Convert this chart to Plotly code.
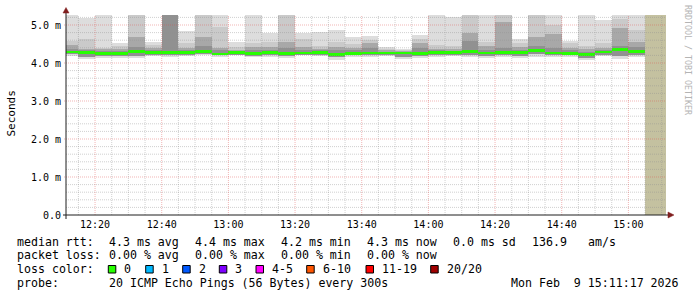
import plotly.graph_objects as go

# ---------------- data ----------------
DAY = "2026-02-09 "
bar_times = ["12:10", "12:15", "12:20", "12:25", "12:30", "12:35", "12:40", "12:45", "12:50", "12:55",
             "13:00", "13:05", "13:10", "13:15", "13:20", "13:25", "13:30", "13:35", "13:40", "13:45",
             "13:50", "13:55", "14:00", "14:05", "14:10", "14:15", "14:20", "14:25", "14:30", "14:35",
             "14:40", "14:45", "14:50", "14:55", "15:00"]

# smoke levels (ms): outermost (max ping) -> inner levels, median, lower edges
rtt_max = [5.30, 5.18, 5.30, 4.52, 5.30, 4.56, 5.30, 4.85, 5.30, 5.30,
           4.56, 5.30, 4.80, 5.30, 4.78, 4.82, 4.87, 4.69, 4.71, 4.42,
           4.38, 4.74, 5.30, 5.20, 5.30, 5.30, 5.30, 4.62, 5.30, 5.30,
           4.59, 5.30, 5.13, 5.30, 5.30]
rtt_q2 = [4.58, 4.62, 4.40, 4.45, 5.30, 4.48, 5.30, 4.52, 5.30, 4.96,
          4.43, 4.52, 4.56, 5.30, 4.62, 4.45, 4.56, 4.49, 4.61, 4.36,
          4.33, 4.62, 4.47, 4.45, 5.30, 4.55, 5.30, 4.52, 5.30, 5.00,
          4.52, 4.45, 4.52, 5.15, 4.87]
rtt_q3 = [4.47, 4.38, 4.36, 4.37, 4.69, 4.39, 5.30, 4.40, 4.69, 4.40,
          4.34, 4.43, 4.43, 4.56, 4.41, 4.38, 4.42, 4.40, 4.52, 4.33,
          4.31, 4.52, 4.38, 4.36, 4.80, 4.44, 5.09, 4.42, 4.69, 4.76,
          4.39, 4.36, 4.40, 4.91, 4.56]
rtt_q4 = [4.36, 4.34, 4.31, 4.31, 4.43, 4.34, 5.30, 4.34, 4.45, 4.33,
          4.31, 4.34, 4.34, 4.40, 4.34, 4.33, 4.34, 4.33, 4.40, 4.30,
          4.30, 4.40, 4.33, 4.32, 4.59, 4.34, 4.40, 4.35, 4.45, 4.40,
          4.33, 4.30, 4.34, 4.46, 4.43]
rtt_median = [4.29, 4.27, 4.25, 4.25, 4.30, 4.28, 4.28, 4.28, 4.31, 4.24,
              4.28, 4.25, 4.27, 4.25, 4.26, 4.28, 4.23, 4.25, 4.26, 4.26,
              4.26, 4.25, 4.28, 4.28, 4.31, 4.26, 4.28, 4.27, 4.33, 4.26,
              4.25, 4.22, 4.29, 4.36, 4.31]
rtt_low2 = [4.23, 4.17, 4.18, 4.18, 4.18, 4.22, 4.20, 4.21, 4.25, 4.20,
            4.22, 4.19, 4.21, 4.18, 4.22, 4.21, 4.15, 4.20, 4.20, 4.21,
            4.17, 4.18, 4.21, 4.22, 4.22, 4.18, 4.20, 4.18, 4.24, 4.21,
            4.20, 4.14, 4.22, 4.18, 4.22]
rtt_min = [4.19, 4.10, 4.12, 4.12, 4.12, 4.18, 4.17, 4.18, 4.20, 4.17,
           4.20, 4.15, 4.17, 4.12, 4.20, 4.18, 4.08, 4.17, 4.17, 4.19,
           4.11, 4.12, 4.17, 4.18, 4.17, 4.12, 4.15, 4.12, 4.17, 4.17,
           4.15, 4.08, 4.18, 4.10, 4.16]

y_ticks = [0, 1, 2, 3, 4, 5]
y_labels = ["0.0", "1.0 m", "2.0 m", "3.0 m", "4.0 m", "5.0 m"]
x_ticks = ["12:20", "12:40", "13:00", "13:20", "13:40", "14:00", "14:20", "14:40", "15:00"]

legend_rtt = ["4.3 ms avg", "4.4 ms max", "4.2 ms min", "4.3 ms now", "0.0 ms sd", "136.9", "am/s"]
legend_loss = ["0.00 % avg", "0.00 % max", "0.00 % min", "0.00 % now"]
loss_labels = ["0", "1", "2", "3", "4-5", "6-10", "11-19", "20/20"]
loss_colors = ["#26ff00", "#00b8ff", "#0059ff", "#7e00ff", "#ff00ff", "#ff5500", "#ff0000", "#a00000"]
probe_text = "20 ICMP Echo Pings (56 Bytes) every 300s"
stamp_text = "Mon Feb  9 15:11:17 2026"

# ---------------- geometry ----------------
W, H = 697, 297
L, R, T, B = 66, 31, 15, 82
PW, PH = W - L - R, H - T - B
X0, X1 = DAY + "12:11:17", DAY + "15:11:17"
Y_MAX = 5.0 * PH / 190.0
MONO = "DejaVu Sans Mono"


def px(x):
    return (x - L) / PW


def py(y):
    return (H - B - y) / PH


xs = [DAY + t for t in bar_times]
BW = 300000  # 5 min in ms

fig = go.Figure()


def band(bottom, top, color):
    fig.add_trace(go.Bar(x=xs, y=[t - b for t, b in zip(top, bottom)], base=bottom,
                         width=BW, offset=0, marker=dict(color=color, line=dict(width=0)),
                         hoverinfo="skip", showlegend=False))


band(rtt_min, rtt_max, "#dddddd")
band(rtt_low2, rtt_q2, "#cacaca")
band(rtt_low2, rtt_q3, "#a8a8a8")
band(rtt_low2, rtt_q4, "#919191")
MW = 0.036
fig.add_trace(go.Bar(x=xs, y=[2 * MW] * len(xs), base=[m - MW for m in rtt_median],
                     width=BW, offset=0, marker=dict(color="#26ff00", line=dict(width=0)),
                     hoverinfo="skip", showlegend=False))

shapes = []
# unknown (no data yet) area
shapes.append(dict(type="rect", xref="x", yref="paper", x0=DAY + "15:05", x1=X1, y0=0, y1=1,
                   fillcolor="#c4c1a0", line=dict(width=0), layer="below"))

GRID = "rgba(143,143,143,0.42)"
MGRID = "rgba(222,79,79,0.42)"
# horizontal grid
for k in range(1, 27):
    v = k * 0.2
    major = (k % 5 == 0)
    shapes.append(dict(type="line", xref="paper", yref="y", x0=px(64) if major else 0, x1=1, y0=v, y1=v,
                       line=dict(color=MGRID if major else GRID, width=1, dash="1px,1px"),
                       layer="above"))
# vertical grid every 5 minutes
for hh in range(12, 16):
    for mm in range(0, 60, 5):
        t = hh * 60 + mm
        if t < 12 * 60 + 15 or t > 15 * 60 + 10:
            continue
        major = (mm % 20 == 0)
        tx = DAY + "%02d:%02d" % (hh, mm)
        shapes.append(dict(type="line", xref="x", yref="paper", x0=tx, x1=tx, y0=0, y1=1,
                           line=dict(color=MGRID if major else GRID, width=1, dash="1px,1px"),
                           layer="above"))

AXIS = "rgb(31,31,31)"
ARROW = "rgb(128,31,31)"
shapes.append(dict(type="line", xref="paper", yref="paper", x0=px(63), x1=px(669), y0=py(215), y1=py(215),
                   line=dict(color=AXIS, width=1), layer="above"))
shapes.append(dict(type="line", xref="paper", yref="paper", x0=px(66), x1=px(66), y0=py(219), y1=py(11),
                   line=dict(color=AXIS, width=1), layer="above"))


def tri(pts):
    p = "M " + " L ".join("%f,%f" % (px(a), py(b)) for a, b in pts) + " Z"
    return dict(type="path", xref="paper", yref="paper", path=p, fillcolor=ARROW,
                line=dict(color=ARROW, width=0.5), layer="above")


shapes.append(tri([(668, 212), (668, 218), (674, 215)]))
shapes.append(tri([(63, 13), (69, 13), (66, 7.5)]))

# loss color squares
sq_x = [108.3, 145.7, 182.7, 219.3, 256, 306.7, 366, 430.7]
for sx, c in zip(sq_x, loss_colors):
    shapes.append(dict(type="rect", xref="paper", yref="paper", x0=px(sx), x1=px(sx + 7.5),
                       y0=py(273), y1=py(265.5), fillcolor=c, line=dict(color="black", width=1),
                       layer="above"))

ann = []
FS = 11.6


def text(s, x, y, anchor="left", size=FS, color="black", angle=0):
    ann.append(dict(text=s, x=px(x), y=py(y), xref="paper", yref="paper", xanchor=anchor,
                    yanchor="middle", showarrow=False, textangle=angle,
                    font=dict(family=MONO, size=size, color=color)))


# line 1
text("median rtt:", 15, 241.5)
rtt_x = [106.5, 192.5, 278.5, 364.5, 450.5, 530, 585.5]
for s, x in zip(legend_rtt, rtt_x):
    text(s, x, 241.5)
# line 2
text("packet loss:", 15, 255.3)
for s, x in zip(legend_loss, rtt_x[:4]):
    text(s, x, 255.3)
# line 3
text("loss color:", 15, 269)
for s, sx in zip(loss_labels, sq_x):
    text(s, sx + 14, 269)
# line 4
text("probe:", 15, 282.8)
text(probe_text, 106.5, 282.8)
text(stamp_text, 681, 282.8, anchor="right")

# axis title and watermark
text("Seconds", 11, 113.5, anchor="center", size=11, angle=-90)
text("RRDTOOL / TOBI OETIKER", 688, 60, anchor="center", size=8.3, color="#b4b4b4", angle=90)

fig.update_layout(
    width=W, height=H, margin=dict(l=L, r=R, t=T, b=B, pad=0),
    paper_bgcolor="white", plot_bgcolor="white",
    barmode="overlay", bargap=0, showlegend=False,
    shapes=shapes, annotations=ann,
    xaxis=dict(type="date", range=[X0, X1], showgrid=False, zeroline=False, showline=False,
               tickvals=[DAY + t for t in x_ticks], ticktext=x_ticks, ticks="",
               tickfont=dict(family=MONO, size=10, color="black"), ticklabelstandoff=2),
    yaxis=dict(range=[0, Y_MAX], showgrid=False, zeroline=False, showline=False,
               tickvals=y_ticks, ticktext=y_labels, ticks="",
               tickfont=dict(family=MONO, size=10, color="black"), ticklabelstandoff=4),
)

fig.write_html("out.html")
